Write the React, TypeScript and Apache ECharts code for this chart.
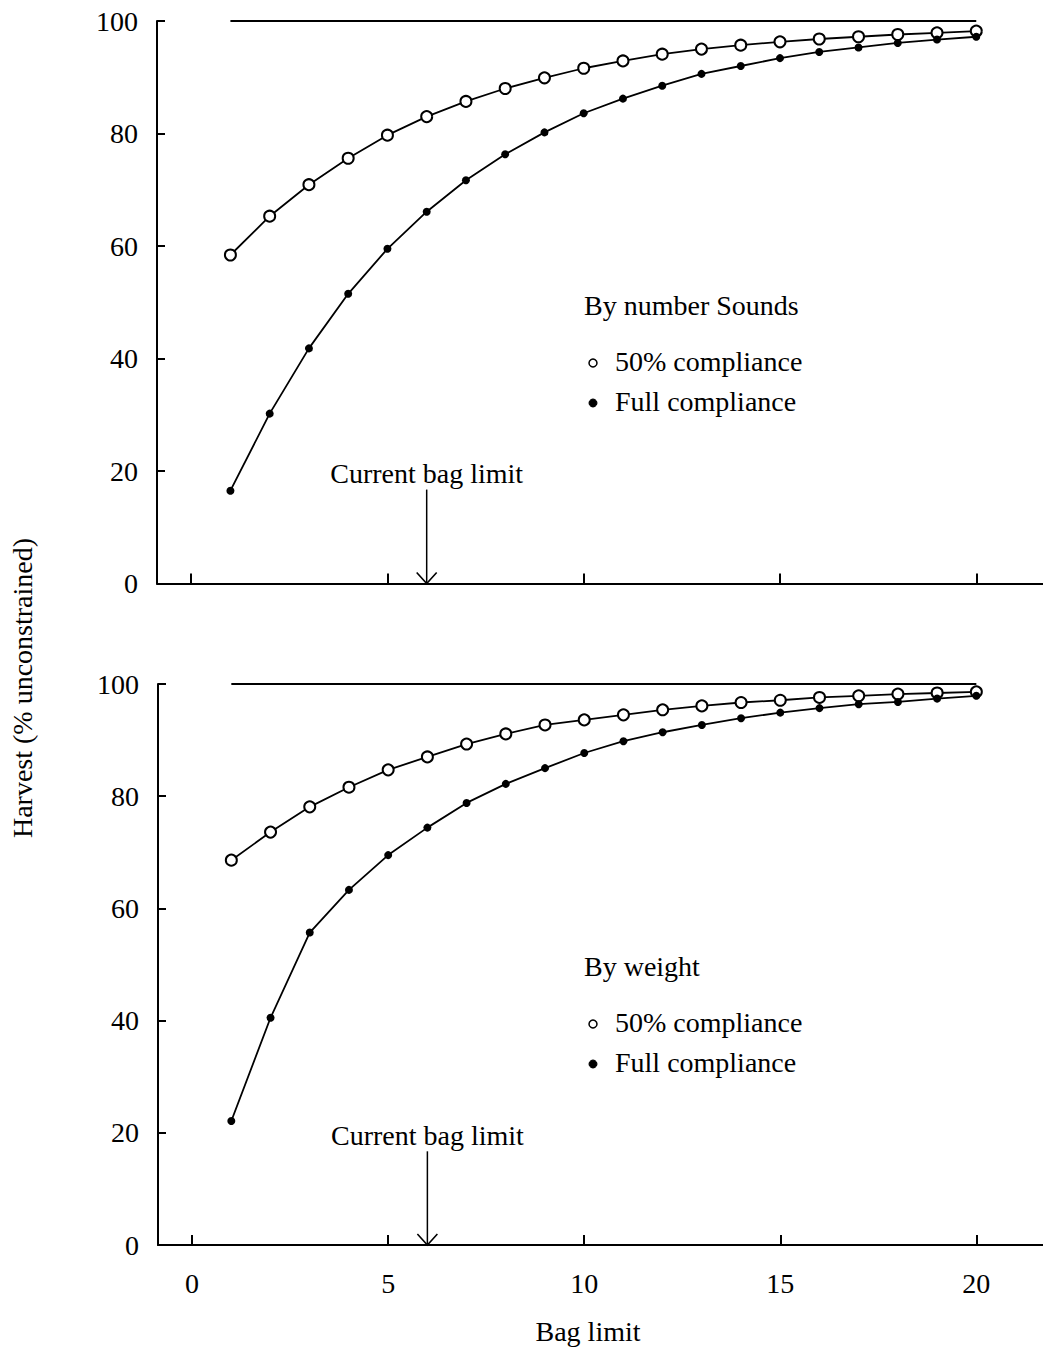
import React, { useEffect, useRef } from "react";
import * as echarts from "echarts";

const bagLimits = [1, 2, 3, 4, 5, 6, 7, 8, 9, 10, 11, 12, 13, 14, 15, 16, 17, 18, 19, 20];
const numberHalf = [58.4, 65.3, 70.9, 75.6, 79.7, 83.0, 85.7, 88.0, 89.9, 91.6, 92.9, 94.1, 95.0, 95.7, 96.3, 96.8, 97.2, 97.6, 97.9, 98.2];
const numberFull = [16.5, 30.2, 41.8, 51.5, 59.5, 66.1, 71.7, 76.3, 80.2, 83.6, 86.2, 88.5, 90.6, 92.0, 93.4, 94.5, 95.3, 96.1, 96.7, 97.2];
const weightHalf = [68.6, 73.6, 78.1, 81.6, 84.7, 87.0, 89.3, 91.1, 92.7, 93.6, 94.5, 95.4, 96.1, 96.7, 97.1, 97.6, 97.9, 98.2, 98.4, 98.6];
const weightFull = [22.1, 40.5, 55.7, 63.3, 69.5, 74.4, 78.8, 82.2, 85.0, 87.7, 89.8, 91.4, 92.7, 93.9, 94.9, 95.7, 96.4, 96.8, 97.4, 97.9];
const ceilingX = [1, 20];
const ceilingValue = 100;
const currentBagLimit = 6;
const arrowTop = 16.7;
const arrowLabelValue = 19.5;
const xTicks = [0, 5, 10, 15, 20];
const panelTitles = ["By number Sounds", "By weight"];
const legendNames = ["50% compliance", "Full compliance"];
const arrowLabel = "Current bag limit";
const xAxisTitle = "Bag limit";
const yAxisTitle = "Harvest (% unconstrained)";

const FONT = "Liberation Serif, Times New Roman, serif";
const FS = 28;

export default function App() {
  const ref = useRef<HTMLDivElement>(null);
  useEffect(() => {
    document.body.style.margin = "0";
    if (!ref.current) return;
    const chart = echarts.init(ref.current, undefined, { renderer: "svg" });

    const grids = [
      { left: 157, top: 21, width: 886, height: 562.5 },
      { left: 158, top: 684, width: 885, height: 561 },
    ];

    const xAxis = grids.map((_, i) => ({
      type: "value",
      gridIndex: i,
      min: -0.87,
      max: 21.7,
      splitLine: { show: false },
      axisLine: { show: true, onZero: false, lineStyle: { color: "#000", width: 2 } },
      axisTick: {
        show: true,
        inside: true,
        length: 10,
        customValues: xTicks,
        lineStyle: { color: "#000", width: 2 },
      },
      axisLabel: {
        show: i === 1,
        customValues: xTicks,
        margin: 24,
        color: "#000",
        fontFamily: FONT,
        fontSize: FS,
      },
    }));

    const yAxis = grids.map((_, i) => ({
      type: "value",
      gridIndex: i,
      min: 0,
      max: 100,
      interval: 20,
      splitLine: { show: false },
      axisLine: { show: true, onZero: false, lineStyle: { color: "#000", width: 2 } },
      axisTick: { show: true, inside: true, length: 8, lineStyle: { color: "#000", width: 2 } },
      axisLabel: { margin: 19, color: "#000", fontFamily: FONT, fontSize: FS },
    }));

    const panels = [
      { half: numberHalf, full: numberFull },
      { half: weightHalf, full: weightFull },
    ];

    const series: any[] = [];
    panels.forEach((p, i) => {
      series.push({
        type: "line",
        name: "ceiling",
        xAxisIndex: i,
        yAxisIndex: i,
        data: ceilingX.map((x) => [x, ceilingValue]),
        showSymbol: false,
        symbol: "none",
        lineStyle: { color: "#000", width: 2 },
        silent: true,
      });
      series.push({
        type: "line",
        name: legendNames[0],
        xAxisIndex: i,
        yAxisIndex: i,
        data: bagLimits.map((x, k) => [x, p.half[k]]),
        symbol: "emptyCircle",
        symbolSize: 11,
        lineStyle: { color: "#000", width: 1.8 },
        itemStyle: { color: "#000", borderWidth: 1.6 },
        z: 3,
      });
      series.push({
        type: "line",
        name: legendNames[1],
        xAxisIndex: i,
        yAxisIndex: i,
        data: bagLimits.map((x, k) => [x, p.full[k]]),
        symbol: "circle",
        symbolSize: 8,
        lineStyle: { color: "#000", width: 1.8 },
        itemStyle: { color: "#000" },
        z: 4,
      });
      series.push({
        type: "custom",
        name: "arrow",
        xAxisIndex: i,
        yAxisIndex: i,
        data: [[currentBagLimit, arrowTop, 0, arrowLabelValue]],
        silent: true,
        renderItem: (params: any, api: any) => {
          const x = api.value(0);
          const top = api.coord([x, api.value(1)]);
          const bot = api.coord([x, api.value(2)]);
          const lab = api.coord([x, api.value(3)]);
          return {
            type: "group",
            children: [
              {
                type: "line",
                shape: { x1: top[0], y1: top[1], x2: bot[0], y2: bot[1] },
                style: { stroke: "#000", lineWidth: 1.5 },
              },
              {
                type: "polyline",
                shape: {
                  points: [
                    [bot[0] - 10, bot[1] - 11],
                    [bot[0], bot[1]],
                    [bot[0] + 10, bot[1] - 11],
                  ],
                },
                style: { stroke: "#000", lineWidth: 1.6, fill: "none" },
              },
              {
                type: "text",
                x: lab[0],
                y: lab[1],
                style: {
                  text: arrowLabel,
                  fill: "#000",
                  font: `${FS}px ${FONT}`,
                  align: "center",
                  verticalAlign: "middle",
                },
              },
            ],
          };
        },
      });
    });

    const legendTops = [307, 968];
    const graphic: any[] = [];
    legendTops.forEach((t, i) => {
      graphic.push({
        type: "text",
        left: 584,
        top: t - 16,
        style: { text: panelTitles[i], fill: "#000", font: `${FS}px ${FONT}` },
      });
      graphic.push({
        type: "circle",
        shape: { cx: 593, cy: t + 56, r: 4 },
        style: { fill: "#fff", stroke: "#000", lineWidth: 1.5 },
      });
      graphic.push({
        type: "text",
        left: 615,
        top: t + 40,
        style: { text: legendNames[0], fill: "#000", font: `${FS}px ${FONT}` },
      });
      graphic.push({
        type: "circle",
        shape: { cx: 593, cy: t + 96, r: 4 },
        style: { fill: "#000", stroke: "#000", lineWidth: 1 },
      });
      graphic.push({
        type: "text",
        left: 615,
        top: t + 80,
        style: { text: legendNames[1], fill: "#000", font: `${FS}px ${FONT}` },
      });
    });
    graphic.push({
      type: "text",
      x: 588,
      y: 1331,
      style: {
        text: xAxisTitle,
        fill: "#000",
        font: `${FS}px ${FONT}`,
        align: "center",
        verticalAlign: "middle",
      },
    });
    graphic.push({
      type: "text",
      x: 22,
      y: 688,
      rotation: Math.PI / 2,
      style: {
        text: yAxisTitle,
        fill: "#000",
        font: `${FS}px ${FONT}`,
        align: "center",
        verticalAlign: "middle",
      },
    });

    chart.setOption({
      animation: false,
      backgroundColor: "#fff",
      grid: grids,
      xAxis,
      yAxis,
      series,
      graphic,
    });
    return () => chart.dispose();
  }, []);
  return <div ref={ref} style={{ width: 1043, height: 1352 }} />;
}
